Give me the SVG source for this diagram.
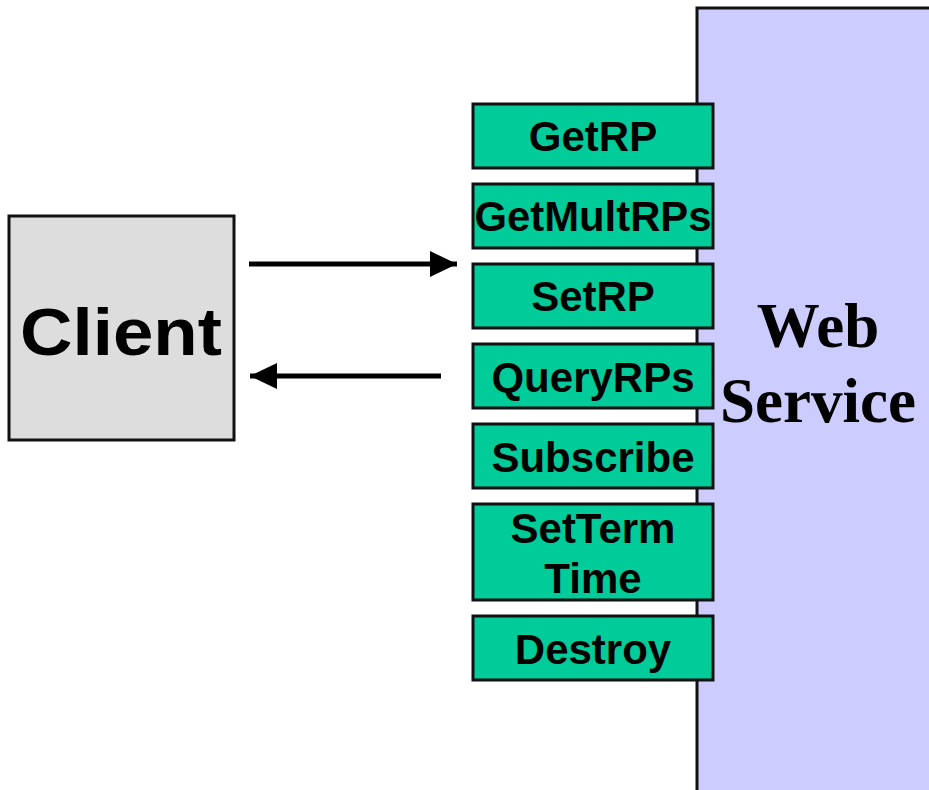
<svg xmlns="http://www.w3.org/2000/svg" width="929" height="790" viewBox="0 0 929 790">
<style>
.op{fill:#00CC99;stroke:#111;stroke-width:3}
.opt{font-family:"Liberation Sans",Arial,sans-serif;font-weight:bold;font-size:42px;text-anchor:middle;fill:#000}
.ws{font-family:"Liberation Serif","Times New Roman",serif;font-weight:bold;font-size:63px;text-anchor:middle;fill:#000}
.conn{stroke:#000;stroke-width:5;fill:none}
</style>
<defs>
<marker id="ah" markerUnits="userSpaceOnUse" markerWidth="28" markerHeight="28" refX="27" refY="13" orient="auto">
<path d="M0,0 L27,13 L0,26 Z" fill="#000"/>
</marker>
</defs>
<rect width="929" height="790" fill="#fff"/>
<g id="webservice">
<rect x="697" y="8" width="250" height="800" fill="#CCCCFF" stroke="#111" stroke-width="3"/>
<text class="ws" x="818" y="347">Web</text>
<text class="ws" x="818" y="422">Service</text>
</g>
<g id="client">
<rect x="9" y="216" width="225" height="224" fill="#DDDDDD" stroke="#111" stroke-width="3"/>
<text x="121" y="355" font-family="Liberation Sans,Arial,sans-serif" font-weight="bold" font-size="67" text-anchor="middle" textLength="202" lengthAdjust="spacingAndGlyphs">Client</text>
</g>
<g id="connectors">
<line class="conn" x1="249" y1="264" x2="457" y2="264" marker-end="url(#ah)"/>
<line class="conn" x1="441" y1="376" x2="250" y2="376" marker-end="url(#ah)"/>
</g>
<g id="getrp"><rect class="op" x="473" y="104" width="240" height="64"/><text class="opt" x="593" y="151">GetRP</text></g>
<g id="getmultrps"><rect class="op" x="473" y="184" width="240" height="64"/><text class="opt" x="593" y="231" textLength="237" lengthAdjust="spacingAndGlyphs">GetMultRPs</text></g>
<g id="setrp"><rect class="op" x="473" y="264" width="240" height="64"/><text class="opt" x="593" y="311">SetRP</text></g>
<g id="queryrps"><rect class="op" x="473" y="344" width="240" height="64"/><text class="opt" x="593" y="392">QueryRPs</text></g>
<g id="subscribe"><rect class="op" x="473" y="424" width="240" height="64"/><text class="opt" x="593" y="472">Subscribe</text></g>
<g id="settermtime"><rect class="op" x="473" y="504" width="240" height="96"/><text class="opt" x="593" y="543">SetTerm</text><text class="opt" x="593" y="593">Time</text></g>
<g id="destroy"><rect class="op" x="473" y="616" width="240" height="64"/><text class="opt" x="593" y="664">Destroy</text></g>
</svg>
